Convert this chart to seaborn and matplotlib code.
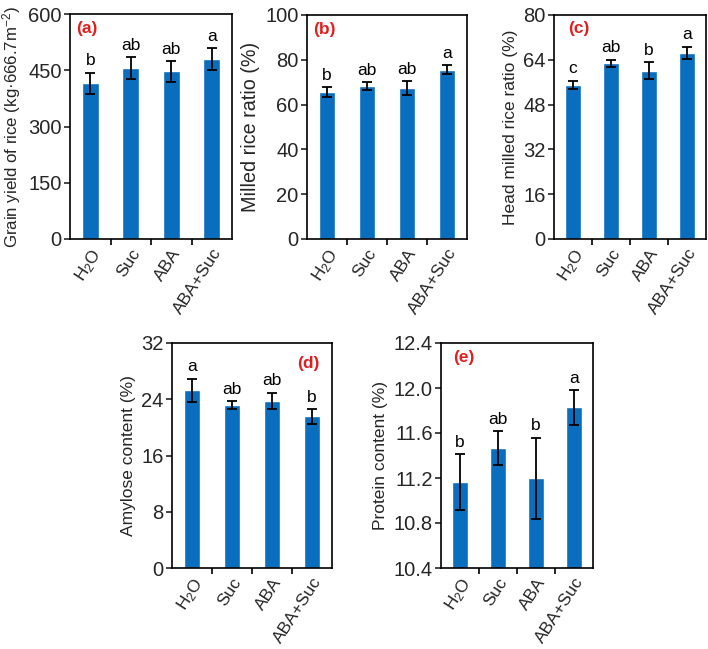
import numpy as np
import pandas as pd
import matplotlib
matplotlib.use("Agg")
import matplotlib.pyplot as plt
import seaborn as sns

# dane
treatments = ['H$_2$O', 'Suc', 'ABA', 'ABA+Suc']

yield_mean = [415, 457, 447, 480]
yield_err = [29, 29, 27, 30]
yield_letters = ['b', 'ab', 'ab', 'a']

milled_mean = [65.5, 68.3, 67.4, 75.6]
milled_err = [2.3, 1.8, 3.1, 2.1]
milled_letters = ['b', 'ab', 'ab', 'a']

head_mean = [55.0, 62.7, 60.1, 66.5]
head_err = [1.6, 1.4, 3.0, 2.2]
head_letters = ['c', 'ab', 'b', 'a']

amylose_mean = [25.3, 23.2, 23.8, 21.6]
amylose_err = [1.65, 0.55, 1.15, 1.05]
amylose_letters = ['a', 'ab', 'ab', 'b']

protein_mean = [11.165, 11.465, 11.20, 11.83]
protein_err = [0.25, 0.15, 0.36, 0.155]
protein_letters = ['b', 'ab', 'b', 'a']

sns.set_theme(style="ticks")
plt.rcParams['font.family'] = ['Liberation Sans', 'DejaVu Sans']
plt.rcParams['mathtext.fontset'] = 'custom'
plt.rcParams['mathtext.rm'] = 'Liberation Sans'
plt.rcParams['mathtext.it'] = 'Liberation Sans:italic'
plt.rcParams['mathtext.bf'] = 'Liberation Sans:bold'

BAR = '#0a6ebf'

fig = plt.figure(figsize=(7.08, 6.49), dpi=100)

W, H = 708, 649


def make_ax(left, right, top, bottom):
    return fig.add_axes([left / W, 1 - bottom / H, (right - left) / W, (bottom - top) / H])


def panel(ax, mean, err, letters, ylim, yticks, ylabel, ylabel_size, tag, tag_pos):
    df = pd.DataFrame({'t': treatments, 'v': mean})
    sns.barplot(data=df, x='t', y='v', color=BAR, width=0.42, errorbar=None,
                saturation=1, ax=ax)
    ax.errorbar(range(len(mean)), mean, yerr=err, fmt='none', ecolor='black',
                elinewidth=1.3, capsize=3.3, capthick=1.3)
    for i, (m, e, l) in enumerate(zip(mean, err, letters)):
        ax.annotate(l, (i, m + e), xytext=(0, 3), textcoords='offset points',
                    ha='center', va='bottom', fontsize=12.5, color='black')
    ax.set_xlim(-0.5, len(mean) - 0.5)
    ax.set_ylim(*ylim)
    ax.set_yticks(yticks)
    ax.set_yticklabels([f'{t:g}' if isinstance(t, int) else f'{t:.1f}' for t in yticks])
    ax.set_xlabel('')
    ax.set_ylabel(ylabel, fontsize=ylabel_size, labelpad=4)
    ax.set_xticks(range(len(mean)))
    ax.set_xticklabels(treatments, rotation=57, ha='right', rotation_mode='anchor')
    ax.set_xticks(np.arange(0.5, len(mean) - 0.5, 1), minor=True)
    ax.tick_params(axis='x', which='major', length=0, pad=5, labelsize=12.5)
    ax.tick_params(axis='x', which='minor', length=4, width=1.2, direction='out', color='black')
    ax.tick_params(axis='y', length=4, width=1.2, direction='out', labelsize=14.5, pad=2)
    for s in ax.spines.values():
        s.set_visible(True)
        s.set_color('black')
        s.set_linewidth(1.2)
    ax.text(tag_pos[0], tag_pos[1], tag, transform=ax.transAxes, color='#e02020',
            fontweight='bold', fontsize=12.5, ha=tag_pos[2], va='top')


ax_a = make_ax(70, 232, 14, 239)
panel(ax_a, yield_mean, yield_err, yield_letters, (0, 600), [0, 150, 300, 450, 600],
      'Grain yield of rice (kg·666.7m$^{-2}$)', 12.2, '(a)', (0.04, 0.97, 'left'))

ax_b = make_ax(307, 467, 15, 239)
panel(ax_b, milled_mean, milled_err, milled_letters, (0, 100), [0, 20, 40, 60, 80, 100],
      'Milled rice ratio (%)', 14.2, '(b)', (0.04, 0.97, 'left'))

ax_c = make_ax(554, 706, 15, 239)
panel(ax_c, head_mean, head_err, head_letters, (0, 80), [0, 16, 32, 48, 64, 80],
      'Head milled rice ratio (%)', 12.5, '(c)', (0.09, 0.975, 'left'))

ax_d = make_ax(172, 332, 343, 568)
panel(ax_d, amylose_mean, amylose_err, amylose_letters, (0, 32), [0, 8, 16, 24, 32],
      'Amylose content (%)', 12.5, '(d)', (0.925, 0.94, 'right'))

ax_e = make_ax(441, 593, 343, 568)
panel(ax_e, protein_mean, protein_err, protein_letters, (10.4, 12.4),
      [10.4, 10.8, 11.2, 11.6, 12.0, 12.4],
      'Protein content (%)', 12.5, '(e)', (0.08, 0.97, 'left'))

fig.savefig('out.png', dpi=100)
